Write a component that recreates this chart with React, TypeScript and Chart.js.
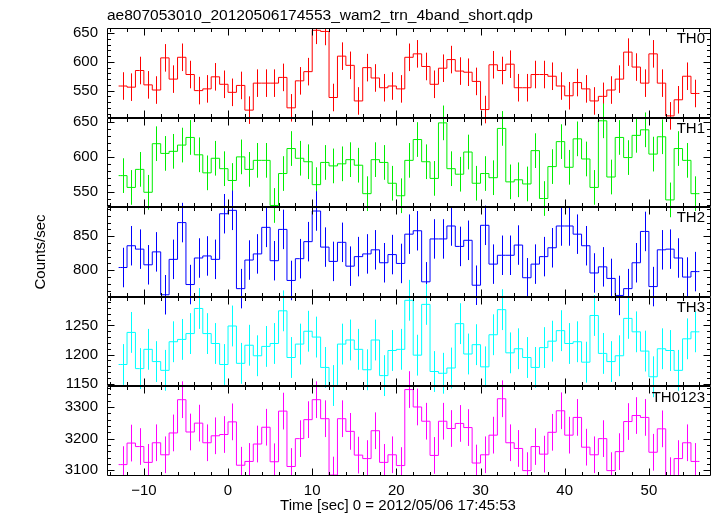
import React, { useEffect, useRef } from 'react';
import { Chart, registerables } from 'chart.js';

Chart.register(...registerables);

const FONT_FAMILY = '"Liberation Sans", Arial, Helvetica, sans-serif';

const TITLE = 'ae807053010_20120506174553_wam2_trn_4band_short.qdp';
const X_TITLE = 'Time [sec] 0 = 2012/05/06 17:45:53';
const Y_TITLE = 'Counts/sec';
const PANEL_LABELS = ['TH0', 'TH1', 'TH2', 'TH3', 'TH0123'];
const COLORS = ['#ff0000', '#00ee00', '#0000ff', '#00ffff', '#ff00ff'];

// bin centres (1 s bins)
const TIME = [
  -12.5, -11.5, -10.5, -9.5, -8.5, -7.5, -6.5, -5.5, -4.5, -3.5, -2.5, -1.5, -0.5,
  0.5, 1.5, 2.5, 3.5, 4.5, 5.5, 6.5, 7.5, 8.5, 9.5, 10.5, 11.5, 12.5, 13.5, 14.5,
  15.5, 16.5, 17.5, 18.5, 19.5, 20.5, 21.5, 22.5, 23.5, 24.5, 25.5, 26.5, 27.5,
  28.5, 29.5, 30.5, 31.5, 32.5, 33.5, 34.5, 35.5, 36.5, 37.5, 38.5, 39.5, 40.5,
  41.5, 42.5, 43.5, 44.5, 45.5, 46.5, 47.5, 48.5, 49.5, 50.5, 51.5, 52.5, 53.5,
  54.5, 55.5,
];

const TH0 = [
  558, 556, 585, 560, 551, 607, 570, 608, 578, 550, 553, 574, 561, 547, 559, 516, 563, 563, 563, 573,
  520, 567, 583, 655, 653, 538, 610, 594, 532, 590, 572, 555, 558, 553, 608, 614, 592, 561, 589, 604,
  584, 582, 566, 517, 595, 585, 596, 555, 555, 578, 578, 575, 558, 541, 564, 553, 532, 540, 551, 570,
  617, 591, 563, 614, 563, 506, 534, 575, 545,
];
const TH1 = [
  573, 556, 582, 549, 619, 605, 608, 617, 628, 603, 577, 598, 583, 566, 600, 582, 595, 595, 530, 576,
  612, 598, 593, 560, 592, 587, 590, 596, 588, 547, 596, 592, 562, 544, 595, 625, 593, 569, 649, 583,
  575, 607, 562, 576, 570, 641, 564, 567, 561, 609, 540, 586, 622, 585, 626, 597, 556, 652, 571, 628,
  599, 631, 639, 604, 629, 538, 612, 595, 547,
];
const TH2 = [
  804, 836, 831, 808, 827, 764, 816, 870, 779, 818, 821, 816, 883, 888, 773, 815, 824, 863, 814, 860,
  785, 817, 842, 887, 834, 813, 841, 806, 820, 824, 830, 811, 823, 810, 853, 858, 783, 846, 846, 865,
  835, 844, 778, 866, 809, 822, 822, 837, 789, 809, 820, 833, 865, 865, 853, 836, 796, 805, 788, 763,
  773, 811, 857, 776, 830, 831, 818, 790, 798,
];
const TH3 = [
  1183, 1238, 1176, 1209, 1188, 1173, 1222, 1226, 1236, 1279, 1236, 1219, 1183, 1249, 1185, 1216, 1198,
  1214, 1219, 1275, 1195, 1218, 1240, 1230, 1178, 1147, 1218, 1225, 1209, 1174, 1225, 1164, 1207, 1209,
  1293, 1199, 1286, 1171, 1168, 1177, 1253, 1201, 1217, 1179, 1234, 1277, 1203, 1210, 1195, 1178, 1212,
  1223, 1241, 1219, 1222, 1187, 1267, 1202, 1188, 1198, 1262, 1239, 1206, 1162, 1210, 1207, 1173, 1227,
  1239,
];
const TH0123 = [
  3118, 3186, 3175, 3125, 3187, 3149, 3218, 3323, 3221, 3249, 3187, 3209, 3213, 3253, 3116, 3128, 3183,
  3236, 3127, 3287, 3112, 3200, 3260, 3323, 3263, 3085, 3263, 3223, 3148, 3137, 3225, 3125, 3149, 3115,
  3355, 3300, 3255, 3147, 3255, 3232, 3248, 3235, 3123, 3149, 3211, 3326, 3187, 3169, 3099, 3175, 3151,
  3220, 3288, 3211, 3267, 3173, 3149, 3200, 3099, 3159, 3254, 3273, 3267, 3157, 3231, 3083, 3137, 3187,
  3128,
];
const SERIES = [TH0, TH1, TH2, TH3, TH0123];
const ERRORS = [24, 25, 29, 35, 58];

const Y_RANGES = [
  [503, 659],
  [527.5, 656.6],
  [761, 892.6],
  [1145.5, 1299],
  [3082, 3365],
];
const Y_MAJOR = [
  [550, 600, 650],
  [550, 600, 650],
  [800, 850],
  [1150, 1200, 1250],
  [3100, 3200, 3300],
];
const Y_MINOR_STEP = [10, 10, 10, 10, 20];
const X_RANGE = [-14.38, 57.38];
const X_MAJOR = [-10, 0, 10, 20, 30, 40, 50];
const X_MINOR_STEP = 2;

const MAJOR_LEN = 7;
const MINOR_LEN = 3.5;

function tickValues(min: number, max: number, step: number) {
  const out: number[] = [];
  for (let v = Math.ceil(min / step) * step; v <= max + 1e-9; v += step) out.push(v);
  return out;
}

const decorPlugin = {
  id: 'qdpDecor',
  afterDatasetsDraw(chart: any) {
    const ctx: CanvasRenderingContext2D = chart.ctx;
    const area = chart.chartArea;
    const xs = chart.scales.x;

    // error bars
    ctx.save();
    ctx.beginPath();
    ctx.rect(area.left, area.top, area.right - area.left, area.bottom - area.top);
    ctx.clip();
    SERIES.forEach((vals, i) => {
      const ys = chart.scales['y' + i];
      ctx.strokeStyle = COLORS[i];
      ctx.lineWidth = 1;
      ctx.beginPath();
      TIME.forEach((t, j) => {
        const px = Math.round(xs.getPixelForValue(t)) + 0.5;
        ctx.moveTo(px, ys.getPixelForValue(vals[j] + ERRORS[i]));
        ctx.lineTo(px, ys.getPixelForValue(vals[j] - ERRORS[i]));
      });
      ctx.stroke();
    });
    ctx.restore();

    // frames and inward ticks
    ctx.save();
    ctx.strokeStyle = '#000';
    ctx.lineWidth = 1;
    const left = Math.round(area.left) + 0.5;
    const right = Math.round(area.right) - 0.5;
    const xMinor = tickValues(X_RANGE[0], X_RANGE[1], X_MINOR_STEP);
    SERIES.forEach((_, i) => {
      const ys = chart.scales['y' + i];
      const top = Math.round(ys.top) + 0.5;
      const bottom = Math.round(ys.bottom) - 0.5;
      ctx.beginPath();
      ctx.rect(left, top, right - left, bottom - top);
      xMinor.forEach((v) => {
        const len = X_MAJOR.includes(v) ? MAJOR_LEN : MINOR_LEN;
        const px = Math.round(xs.getPixelForValue(v)) + 0.5;
        ctx.moveTo(px, bottom);
        ctx.lineTo(px, bottom - len);
        ctx.moveTo(px, top);
        ctx.lineTo(px, top + len);
      });
      const [mn, mx] = Y_RANGES[i];
      tickValues(mn, mx, Y_MINOR_STEP[i]).forEach((v) => {
        const len = Y_MAJOR[i].includes(v) ? MAJOR_LEN : MINOR_LEN;
        const py = Math.round(ys.getPixelForValue(v)) + 0.5;
        ctx.moveTo(left, py);
        ctx.lineTo(left + len, py);
        ctx.moveTo(right, py);
        ctx.lineTo(right - len, py);
      });
      ctx.stroke();

      ctx.fillStyle = '#000';
      ctx.font = '15px ' + FONT_FAMILY;
      ctx.textAlign = 'right';
      ctx.textBaseline = 'middle';
      ctx.fillText(PANEL_LABELS[i], 705, ys.top + 11);
    });

    ctx.fillStyle = '#000';
    ctx.font = '15.5px ' + FONT_FAMILY;
    ctx.textAlign = 'left';
    ctx.textBaseline = 'middle';
    ctx.fillText(TITLE, area.left, 15.5);
    ctx.font = '15px ' + FONT_FAMILY;
    ctx.textAlign = 'center';
    ctx.fillText(X_TITLE, 398, 505.5);
    ctx.restore();
  },
};

function buildConfig(): any {
  const datasets = SERIES.map((vals, i) => {
    const last = TIME.length - 1;
    const pts = [{ x: TIME[0] - 0.5, y: vals[0] }];
    TIME.forEach((t, j) => pts.push({ x: t, y: vals[j] }));
    pts.push({ x: TIME[last] + 0.5, y: vals[last] });
    return {
      label: PANEL_LABELS[i],
      data: pts,
      yAxisID: 'y' + i,
      borderColor: COLORS[i],
      backgroundColor: COLORS[i],
      borderWidth: 1,
      pointRadius: 0,
      stepped: 'middle',
      fill: false,
    };
  });

  const scales: any = {
    x: {
      type: 'linear',
      position: 'bottom',
      min: X_RANGE[0],
      max: X_RANGE[1],
      grid: { display: false, drawTicks: false },
      border: { display: false },
      ticks: {
        padding: 6,
        color: '#000',
        autoSkip: false,
        maxRotation: 0,
        font: { size: 15, family: FONT_FAMILY },
        callback: (v: number) => (v < 0 ? '\u2212' + Math.abs(v) : String(v)),
      },
      afterBuildTicks: (s: any) => {
        s.ticks = X_MAJOR.map((v) => ({ value: v }));
      },
      afterFit: (s: any) => {
        s.height = 40;
      },
    },
  };
  // stacked axes are laid out top-down from the last registered one,
  // so register the bottom panel first
  for (let i = SERIES.length - 1; i >= 0; i--) {
    scales['y' + i] = {
      type: 'linear',
      position: 'left',
      stack: 'panels',
      stackWeight: 1,
      min: Y_RANGES[i][0],
      max: Y_RANGES[i][1],
      grid: { display: false, drawTicks: false },
      border: { display: false },
      ticks: {
        padding: 9,
        color: '#000',
        autoSkip: false,
        font: { size: 15, family: FONT_FAMILY },
        callback: (v: number) => String(v),
      },
      title:
        i === 2
          ? {
              display: true,
              text: Y_TITLE,
              color: '#000',
              font: { size: 15, family: FONT_FAMILY, lineHeight: 1.2 },
              padding: { top: 32, bottom: 0 },
            }
          : { display: false },
      afterBuildTicks: (s: any) => {
        s.ticks = Y_MAJOR[i].map((v) => ({ value: v }));
      },
      afterFit: (s: any) => {
        s.width = 107;
      },
    };
  }

  return {
    type: 'line',
    data: { datasets },
    options: {
      animation: false,
      responsive: false,
      devicePixelRatio: 1,
      events: [],
      layout: { padding: { top: 28, right: 6, bottom: 0, left: 0 } },
      plugins: { legend: { display: false }, tooltip: { enabled: false }, title: { display: false } },
      scales,
    },
    plugins: [decorPlugin],
  };
}

export default function App() {
  const ref = useRef<HTMLCanvasElement>(null);
  useEffect(() => {
    const chart = new Chart(ref.current as HTMLCanvasElement, buildConfig());
    return () => chart.destroy();
  }, []);
  return (
    <div style={{ position: 'absolute', left: 0, top: 0, width: 717, height: 516, background: '#fff' }}>
      <canvas ref={ref} width={717} height={516} style={{ display: 'block', width: 717, height: 516 }} />
    </div>
  );
}
